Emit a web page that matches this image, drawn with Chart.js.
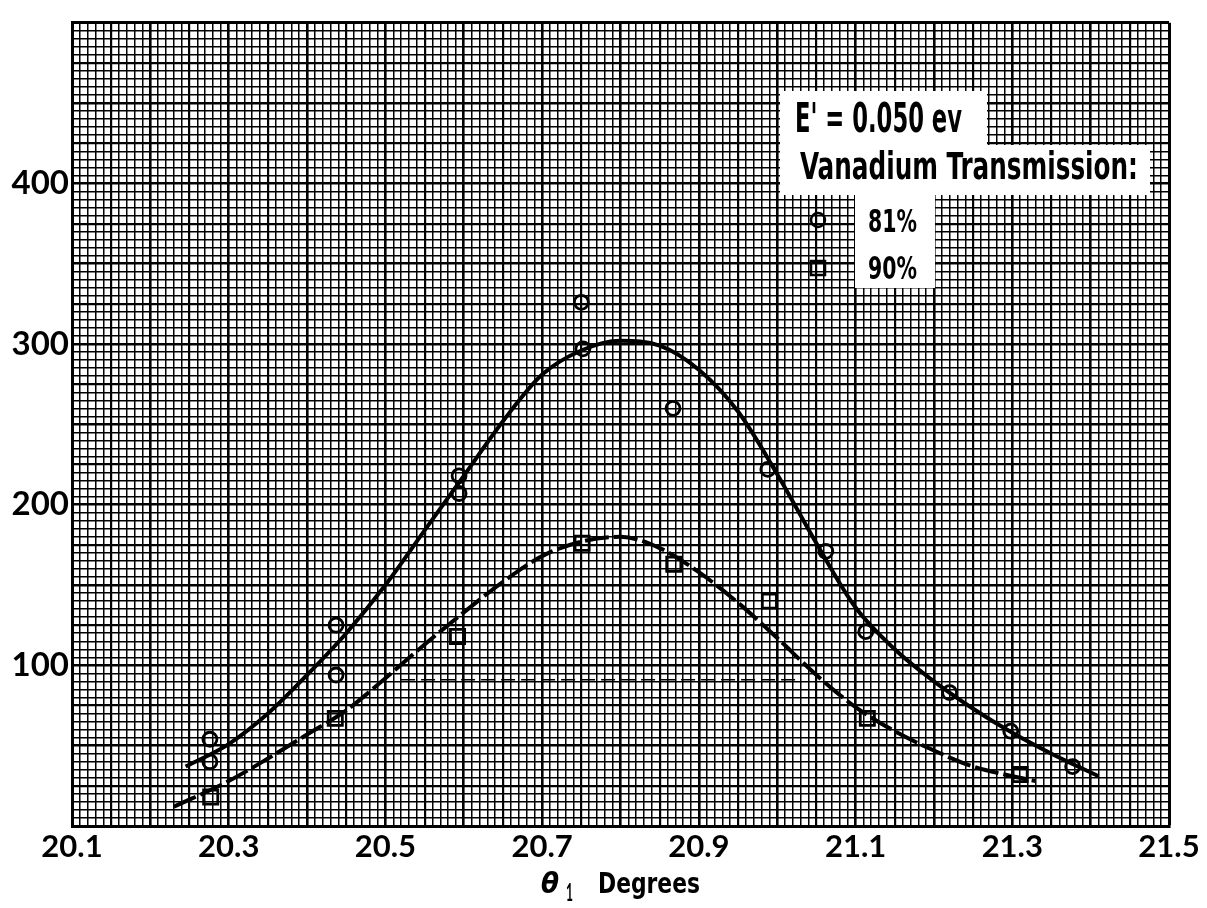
<!DOCTYPE html>
<html>
<head>
<meta charset="utf-8">
<title>Vanadium transmission peak</title>
<script src="https://cdn.jsdelivr.net/npm/chart.js@4.4.1/dist/chart.umd.min.js"></script>
<style>
  html, body { margin: 0; padding: 0; background: #fff; }
  #chart { display: block; }
</style>
</head>
<body>
<canvas id="chart" width="1207" height="908"></canvas>
<script>
// 81% transmission, measured points (circles)
const circleAngles = [20.276, 20.276, 20.437, 20.437, 20.594, 20.594, 20.750, 20.752, 20.867, 20.988, 21.062, 21.113, 21.220, 21.298, 21.377];
const circleCounts = [54, 40, 125, 94, 218, 207, 326, 297, 260, 222, 171, 121, 83, 59, 37];

// 90% transmission, measured points (squares)
const squareAngles = [20.277, 20.436, 20.592, 20.751, 20.868, 20.990, 21.115, 21.310];
const squareCounts = [18, 67, 118, 176, 163, 140, 67, 32];

// hand drawn curve through the circles (solid)
const fit81Angles = [20.245, 20.30, 20.35, 20.40, 20.45, 20.50, 20.55, 20.60, 20.65, 20.70, 20.75, 20.80, 20.85, 20.90, 20.95, 21.00, 21.05, 21.10, 21.15, 21.20, 21.25, 21.30, 21.35, 21.41];
const fit81Counts = [37, 51, 70, 94, 120, 150, 184, 218, 252, 281, 296, 302, 299, 284, 258, 219, 176, 136, 110, 90, 73, 58, 45, 31];

// hand drawn curve through the squares (dashed)
const fit90Angles = [20.23, 20.30, 20.35, 20.40, 20.45, 20.50, 20.55, 20.60, 20.65, 20.70, 20.75, 20.80, 20.85, 20.90, 20.95, 21.00, 21.05, 21.10, 21.15, 21.20, 21.25, 21.30, 21.33];
const fit90Counts = [12, 28, 42, 57, 72, 92, 113, 133, 152, 168, 177, 180, 173, 158, 139, 117, 94, 74, 59, 47, 37, 31, 28];

// faint half-height guide under the dashed curve
const guideAngles = [20.52, 21.03];
const guideCounts = [91, 91];

const xTickLabels = ['20.1', '20.3', '20.5', '20.7', '20.9', '21.1', '21.3', '21.5'];
const yTickLabels = ['100', '200', '300', '400'];

const noteLines = ["E' = 0.050 ev", 'Vanadium Transmission:'];
const seriesNames = ['81%', '90%'];
const axisTitle = { symbol: 'θ', sub: '1', word: 'Degrees' };

const NARROW = "'Liberation Sans Narrow', 'DejaVu Sans Condensed', 'Roboto', sans-serif";

function pts(xs, ys) {
    return xs.map((x, i) => ({ x: x, y: ys[i] }));
}

// draw text squeezed/stretched to a given width (the original lettering is very condensed)
function fitText(ctx, text, x, y, w, font) {
    ctx.save();
    ctx.font = font;
    ctx.textAlign = 'left';
    ctx.textBaseline = 'alphabetic';
    const m = ctx.measureText(text).width;
    ctx.translate(x, y);
    ctx.scale(w / m, 1);
    ctx.fillText(text, 0, 0);
    ctx.restore();
}

const whiteBg = {
    id: 'whiteBg',
    beforeDraw(chart) {
        const c = chart.ctx;
        c.save();
        c.fillStyle = '#fff';
        c.fillRect(0, 0, chart.width, chart.height);
        c.restore();
    }
};

// note box, legend and axis title
const notes = {
    id: 'notes',
    afterDatasetsDraw(chart) {
        const c = chart.ctx;
        c.save();
        c.fillStyle = '#fff';
        c.fillRect(780, 91, 207, 56);
        c.fillRect(780, 145, 370, 50);
        c.fillRect(855, 195, 80, 93);

        c.fillStyle = '#000';
        fitText(c, noteLines[0], 795, 132, 167, 'bold 40px ' + NARROW);
        fitText(c, noteLines[1], 800, 179, 338, 'bold 37px ' + NARROW);
        fitText(c, seriesNames[0], 868, 232, 49, 'bold 32px ' + NARROW);
        fitText(c, seriesNames[1], 868, 279, 49, 'bold 32px ' + NARROW);

        c.strokeStyle = '#000';
        c.lineWidth = 2.5;
        c.beginPath();
        c.arc(818, 220, 7, 0, Math.PI * 2);
        c.stroke();
        c.strokeRect(811, 261, 14, 14);

        // x axis title
        fitText(c, axisTitle.symbol, 541, 893, 18, "italic bold 28px 'DejaVu Sans', sans-serif");
        fitText(c, axisTitle.sub, 566, 901, 7, 'bold 25px Lato, sans-serif');
        fitText(c, axisTitle.word, 598, 893, 102, 'bold 29px ' + NARROW);
        c.restore();
    }
};

function xWidth(ctx) {
    if (!ctx.tick) return 1.5;
    const k = Math.round((ctx.tick.value - 20.1) * 100);
    if (k === 140) return 3;
    if (k % 10 === 0) return 2.6;
    if (k % 5 === 0) return 2.2;
    return 1.5;
}

function yWidth(ctx) {
    if (!ctx.tick) return 1.5;
    const k = Math.round(ctx.tick.value / 5);
    if (k === 100) return 3;
    if (k % 10 === 0) return 2.6;
    if (k % 5 === 0) return 2.2;
    return 1.5;
}

const chart = new Chart(document.getElementById('chart').getContext('2d'), {
    type: 'scatter',
    data: {
        datasets: [
            {
                label: '81% fit',
                data: pts(fit81Angles, fit81Counts),
                showLine: true,
                borderColor: '#000',
                borderWidth: 4,
                pointRadius: 0,
                cubicInterpolationMode: 'monotone'
            },
            {
                label: '90% fit',
                data: pts(fit90Angles, fit90Counts),
                showLine: true,
                borderColor: '#000',
                borderWidth: 4,
                borderDash: [24, 5],
                pointRadius: 0,
                cubicInterpolationMode: 'monotone'
            },
            {
                label: 'guide',
                data: pts(guideAngles, guideCounts),
                showLine: true,
                borderColor: '#000',
                borderWidth: 1.5,
                borderDash: [14, 6],
                pointRadius: 0
            },
            {
                label: '81%',
                data: pts(circleAngles, circleCounts),
                pointStyle: 'circle',
                pointRadius: 7,
                borderWidth: 2.8,
                borderColor: '#000',
                backgroundColor: 'rgba(0,0,0,0)'
            },
            {
                label: '90%',
                data: pts(squareAngles, squareCounts),
                pointStyle: 'rect',
                pointRadius: 10,
                borderWidth: 2.8,
                borderColor: '#000',
                backgroundColor: 'rgba(0,0,0,0)'
            }
        ]
    },
    options: {
        responsive: false,
        devicePixelRatio: 1,
        animation: false,
        layout: { padding: { top: 9, right: 38, left: 0, bottom: 0 } },
        plugins: {
            legend: { display: false },
            tooltip: { enabled: false }
        },
        scales: {
            x: {
                type: 'linear',
                min: 20.1,
                max: 21.5,
                afterFit: (s) => { s.height = 82; },
                border: { display: true, color: '#000', width: 3 },
                grid: { color: '#000', lineWidth: xWidth, drawTicks: false },
                ticks: {
                    stepSize: 0.01,
                    autoSkip: false,
                    maxRotation: 0,
                    padding: 2,
                    color: '#000',
                    font: { family: 'Lato, sans-serif', size: 31, weight: 'bold' },
                    callback: (v) => {
                        const s = Number(v).toFixed(1);
                        const k = Math.round((v - 20.1) * 100);
                        return (k % 10 === 0 && xTickLabels.includes(s)) ? s : '';
                    }
                }
            },
            y: {
                type: 'linear',
                min: 0,
                max: 500,
                afterFit: (s) => { s.width = 72; },
                border: { display: true, color: '#000', width: 3 },
                grid: { color: '#000', lineWidth: yWidth, drawTicks: false },
                ticks: {
                    stepSize: 5,
                    autoSkip: false,
                    padding: 3,
                    color: '#000',
                    font: { family: 'Lato, sans-serif', size: 33, weight: 'bold' },
                    callback: (v) => yTickLabels.includes(String(v)) ? String(v) : ''
                }
            }
        }
    },
    plugins: [whiteBg, notes]
});
</script>
</body>
</html>
